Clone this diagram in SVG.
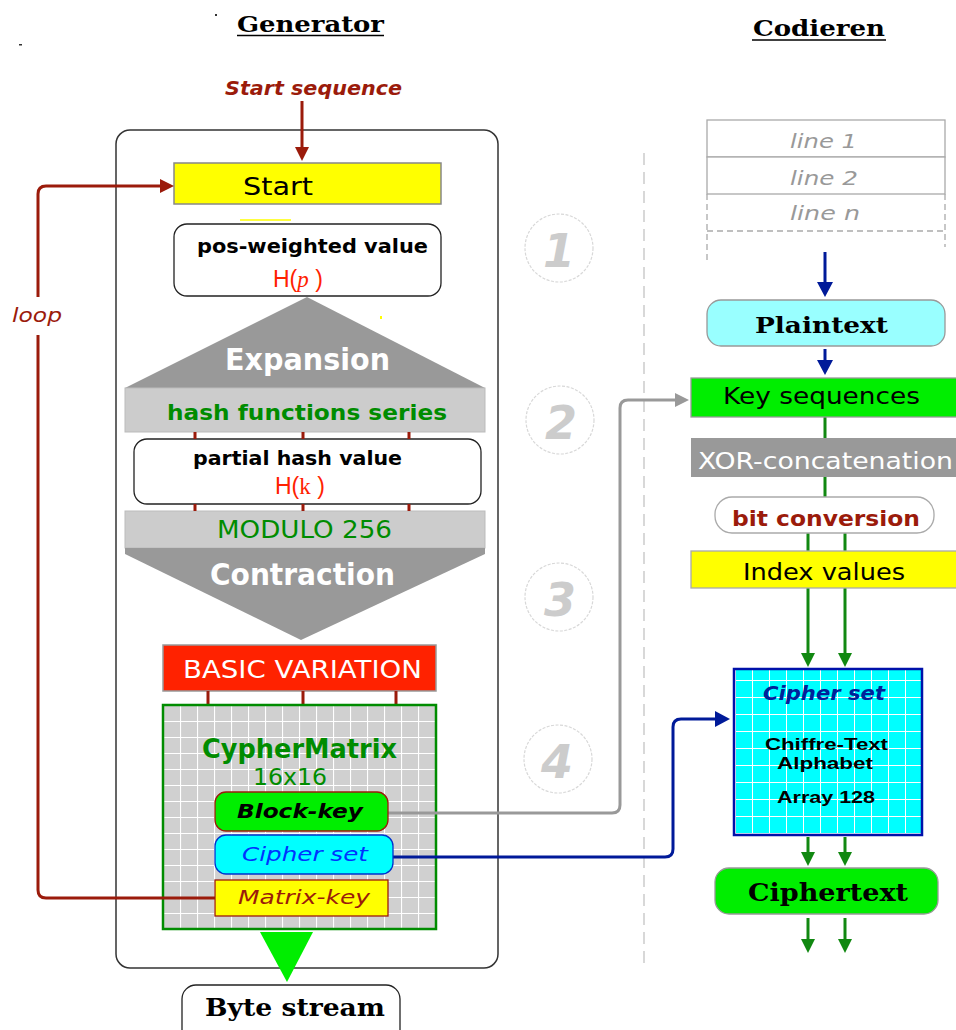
<svg xmlns="http://www.w3.org/2000/svg" width="956" height="1030" viewBox="0 0 956 1030">
<style>
.sans{font-family:"DejaVu Sans","Liberation Sans",sans-serif}
.serifb{font-family:"DejaVu Serif","Liberation Serif",serif;font-weight:bold}
.arial{font-family:"Liberation Sans",Arial,sans-serif}
.b{font-weight:bold}
.i{font-style:italic}
.dred{fill:#9b1b0b}
.grn{fill:#008c00}
.num{font-family:"DejaVu Sans",sans-serif;font-weight:bold;font-style:italic;fill:#cccccc;font-size:46px}
.circ{fill:none;stroke:#d8d8d8;stroke-width:1.2;stroke-dasharray:3 1.5}
.link{fill:none;stroke-width:3}
.bar{stroke:#9b1b0b;stroke-width:3}
</style>
<defs>
<pattern id="ggrid" x="163" y="705" width="17" height="16" patternUnits="userSpaceOnUse">
<rect width="17" height="16" fill="#d0d0d0"/>
<path d="M0,0 V16 M0,0 H17" stroke="#ffffff" stroke-width="2.2"/>
</pattern>
<pattern id="cgrid" x="735" y="663" width="17" height="17" patternUnits="userSpaceOnUse">
<rect width="17" height="17" fill="#00ffff"/>
<path d="M0,0 V17 M0,0 H17" stroke="#ffffff" stroke-width="2"/>
</pattern>
<marker id="mRed" markerWidth="14" markerHeight="14" refX="3" refY="7" orient="auto" markerUnits="userSpaceOnUse"><path d="M0,0 L14,7 L0,14 z" fill="#9b1b0b"/></marker>
<marker id="mGray" markerWidth="14" markerHeight="14" refX="3" refY="7" orient="auto" markerUnits="userSpaceOnUse"><path d="M0,0 L14,7 L0,14 z" fill="#999999"/></marker>
<marker id="mBlue" markerWidth="15" markerHeight="16" refX="3" refY="8" orient="auto" markerUnits="userSpaceOnUse"><path d="M0,0 L15,8 L0,16 z" fill="#001a99"/></marker>
<marker id="mGreen" markerWidth="14" markerHeight="14" refX="3" refY="7" orient="auto" markerUnits="userSpaceOnUse"><path d="M0,0 L14,7 L0,14 z" fill="#118811"/></marker>
</defs>
<rect width="956" height="1030" fill="#ffffff"/>

<!-- stray marks -->
<rect x="215" y="14" width="2" height="2" fill="#333"/>
<rect x="19" y="44" width="3" height="1.5" fill="#333"/>
<path d="M240,220 H291" stroke="#ffff00" stroke-width="1.5"/>
<rect x="380" y="316" width="2" height="3" fill="#ffff00"/>

<!-- headers -->
<g id="hdr-generator">
<text x="237" y="32" class="serifb" font-size="22" textLength="147" lengthAdjust="spacingAndGlyphs">Generator</text>
<path d="M237,35.5 H384" stroke="#000" stroke-width="1.6"/>
</g>
<g id="hdr-codieren">
<text x="753" y="36" class="serifb" font-size="22" textLength="132" lengthAdjust="spacingAndGlyphs">Codieren</text>
<path d="M752,40 H886" stroke="#000" stroke-width="1.6"/>
</g>

<!-- separator -->
<path d="M644,153 V963" stroke="#cccccc" stroke-width="1.5" stroke-dasharray="12 7"/>

<!-- generator frame -->
<g id="frame">
<rect x="116" y="130" width="382" height="838" rx="14" fill="none" stroke="#333" stroke-width="1.5"/>
</g>

<g id="start-seq-label">
<text x="225" y="95" class="sans b i dred" font-size="20" textLength="177" lengthAdjust="spacingAndGlyphs">Start sequence</text>
</g>

<g id="start">
<rect x="174" y="163" width="267" height="41" fill="#ffff00" stroke="#888" stroke-width="1.5"/>
<text x="243" y="195" class="sans" font-size="24" textLength="70" lengthAdjust="spacingAndGlyphs">Start</text>
</g>

<g id="posweighted">
<rect x="174" y="224" width="267" height="72" rx="13" fill="#fff" stroke="#222" stroke-width="1.3"/>
<text x="197" y="253" class="sans b" font-size="19" textLength="231" lengthAdjust="spacingAndGlyphs">pos-weighted value</text>
<text x="273" y="287" font-size="23" fill="#ff2200"><tspan class="arial">H(</tspan><tspan font-family="Liberation Serif,serif" font-style="italic">p</tspan><tspan class="arial"> )</tspan></text>
</g>

<g id="expansion">
<polygon points="307,297 485,388 125,388" fill="#999999"/>
<text x="225" y="370" class="sans b" font-size="30" fill="#fff" textLength="165" lengthAdjust="spacingAndGlyphs">Expansion</text>
</g>

<g id="hashseries">
<rect x="125" y="388" width="360" height="44" fill="#cccccc" stroke="#bbbbbb"/>
<text x="167" y="420" class="sans b grn" font-size="22" textLength="280" lengthAdjust="spacingAndGlyphs">hash functions series</text>
</g>

<g id="partialhash">
<rect x="134" y="439" width="347" height="65" rx="13" fill="#fff" stroke="#222" stroke-width="1.3"/>
<text x="193" y="465" class="sans b" font-size="19" textLength="209" lengthAdjust="spacingAndGlyphs">partial hash value</text>
<text x="275" y="494" font-size="23" fill="#ff2200"><tspan class="arial">H(</tspan><tspan font-family="Liberation Serif,serif">k</tspan><tspan class="arial"> )</tspan></text>
</g>

<g id="modulo">
<rect x="125" y="511" width="360" height="37" fill="#cccccc" stroke="#bbbbbb"/>
<text x="217" y="538" class="sans grn" font-size="24" textLength="175" lengthAdjust="spacingAndGlyphs">MODULO 256</text>
</g>

<g id="contraction">
<polygon points="125,548 485,548 485,554 301,640 125,554" fill="#999999"/>
<text x="210" y="585" class="sans b" font-size="30" fill="#fff" textLength="185" lengthAdjust="spacingAndGlyphs">Contraction</text>
</g>

<g id="basicvar">
<rect x="163" y="645" width="273" height="46" fill="#ff2200" stroke="#999" stroke-width="1.5"/>
<text x="183" y="678" class="sans" font-size="25" fill="#fff" textLength="239" lengthAdjust="spacingAndGlyphs">BASIC VARIATION</text>
</g>

<!-- small dark red links -->
<g id="bars">
<path class="bar" d="M195,432 V439 M303,432 V439 M409,432 V439 M195,504 V511 M303,504 V511 M409,504 V511 M208,691 V705 M303,691 V705 M396,691 V705"/>
</g>

<g id="cyphermatrix">
<rect x="163" y="705" width="273" height="224" fill="url(#ggrid)" stroke="#008c00" stroke-width="2.5"/>
<text x="202" y="758" class="sans b grn" font-size="27" textLength="195" lengthAdjust="spacingAndGlyphs">CypherMatrix</text>
<text x="253" y="785" class="sans grn" font-size="23" textLength="74" lengthAdjust="spacingAndGlyphs">16x16</text>
</g>

<!-- connectors -->
<g id="connectors">
<path d="M302,101 V150" class="link" stroke="#9b1b0b" marker-end="url(#mRed)"/>
<path d="M215,898 H46 Q38,898 38,890 V335 M38,297 V194 Q38,186 46,186 H163" class="link" stroke="#9b1b0b" marker-end="url(#mRed)"/>
<path d="M388,813 H612 Q620,813 620,805 V408 Q620,400 628,400 H678" class="link" stroke="#999999" marker-end="url(#mGray)"/>
<path d="M393,857 H665 Q673,857 673,849 V727 Q673,719 681,719 H718" class="link" stroke="#001a99" marker-end="url(#mBlue)"/>
<path d="M825,252 V285" class="link" stroke="#001a99" marker-end="url(#mBlue)"/>
<path d="M825,349 V363" class="link" stroke="#001a99" marker-end="url(#mBlue)"/>
<path d="M825,417 V438 M825,477 V497 M808,533 V551 M845,533 V551" class="link" stroke="#118811"/>
<path d="M808,588 V656" class="link" stroke="#118811" marker-end="url(#mGreen)"/>
<path d="M845,588 V656" class="link" stroke="#118811" marker-end="url(#mGreen)"/>
<path d="M808,837 V855" class="link" stroke="#118811" marker-end="url(#mGreen)"/>
<path d="M845,837 V855" class="link" stroke="#118811" marker-end="url(#mGreen)"/>
<path d="M808,918 V942" class="link" stroke="#118811" marker-end="url(#mGreen)"/>
<path d="M845,918 V942" class="link" stroke="#118811" marker-end="url(#mGreen)"/>
</g>

<g id="loop-label">
<text x="12" y="322" class="sans i dred" font-size="19" textLength="50" lengthAdjust="spacingAndGlyphs">loop</text>
</g>

<g id="blockkey">
<rect x="215" y="792" width="173" height="39" rx="11" fill="#00ee00" stroke="#9b1b0b" stroke-width="1.3"/>
<text x="237" y="818" class="sans b i" font-size="20" textLength="126" lengthAdjust="spacingAndGlyphs">Block-key</text>
</g>

<g id="cipherset-left">
<rect x="215" y="835" width="178" height="39" rx="11" fill="#00ffff" stroke="#0033cc" stroke-width="1.3"/>
<text x="242" y="861" class="sans i" font-size="20" fill="#0033ff" textLength="126" lengthAdjust="spacingAndGlyphs">Cipher set</text>
</g>

<g id="matrixkey">
<rect x="215" y="880" width="173" height="36" fill="#ffff00" stroke="#9b1b0b" stroke-width="1.3"/>
<text x="238" y="904" class="sans i dred" font-size="20" textLength="132" lengthAdjust="spacingAndGlyphs">Matrix-key</text>
</g>

<g id="out-triangle">
<polygon points="260,932 313,932 287,982" fill="#00ee00"/>
</g>

<g id="bytestream">
<rect x="182" y="985" width="218" height="60" rx="14" fill="#fff" stroke="#222" stroke-width="1.3"/>
<text x="205" y="1016" class="serifb" font-size="24" textLength="180" lengthAdjust="spacingAndGlyphs">Byte stream</text>
</g>

<!-- step circles -->
<g id="step1"><circle cx="559" cy="248" r="34" class="circ"/><text x="559" y="267" text-anchor="middle" class="num">1</text></g>
<g id="step2"><circle cx="560" cy="420" r="34" class="circ"/><text x="561" y="439" text-anchor="middle" class="num">2</text></g>
<g id="step3"><circle cx="559" cy="597" r="34" class="circ"/><text x="560" y="616" text-anchor="middle" class="num">3</text></g>
<g id="step4"><circle cx="558" cy="759" r="34" class="circ"/><text x="557" y="778" text-anchor="middle" class="num">4</text></g>

<!-- right side -->
<g id="lines">
<rect x="707" y="120" width="238" height="37" fill="#fff" stroke="#aaaaaa" stroke-width="1.3"/>
<rect x="707" y="157" width="238" height="37" fill="#fff" stroke="#aaaaaa" stroke-width="1.3"/>
<path d="M707,194 V260 M945,194 V247 M707,231 H945" fill="none" stroke="#aaaaaa" stroke-width="1.3" stroke-dasharray="6 4"/>
<text x="790" y="148" class="sans i" font-size="20" fill="#999999" textLength="67" lengthAdjust="spacingAndGlyphs">line 1</text>
<text x="790" y="185" class="sans i" font-size="20" fill="#999999" textLength="68" lengthAdjust="spacingAndGlyphs">line 2</text>
<text x="790" y="220" class="sans i" font-size="20" fill="#999999" textLength="70" lengthAdjust="spacingAndGlyphs">line n</text>
</g>

<g id="plaintext">
<rect x="707" y="300" width="238" height="46" rx="14" fill="#99ffff" stroke="#999" stroke-width="1.3"/>
<text x="755" y="333" class="serifb" font-size="22" textLength="133" lengthAdjust="spacingAndGlyphs">Plaintext</text>
</g>

<g id="keyseq">
<rect x="691" y="378" width="275" height="39" fill="#00ee00" stroke="#999" stroke-width="1.3"/>
<text x="723" y="404" class="sans" font-size="23" textLength="197" lengthAdjust="spacingAndGlyphs">Key sequences</text>
</g>

<g id="xor">
<rect x="691" y="438" width="275" height="39" fill="#999999"/>
<text x="698" y="469" class="sans" font-size="23" fill="#fff" textLength="255" lengthAdjust="spacingAndGlyphs">XOR-concatenation</text>
</g>

<g id="bitconv">
<rect x="715" y="497" width="219" height="36" rx="17" fill="#fff" stroke="#aaa" stroke-width="1.3"/>
<text x="732" y="526" class="sans b dred" font-size="22" textLength="188" lengthAdjust="spacingAndGlyphs">bit conversion</text>
</g>

<g id="index">
<rect x="691" y="551" width="275" height="37" fill="#ffff00" stroke="#aaa" stroke-width="1.3"/>
<text x="743" y="580" class="sans" font-size="23" textLength="162" lengthAdjust="spacingAndGlyphs">Index values</text>
</g>

<g id="cipherset-right">
<rect x="734" y="669" width="188" height="166" fill="url(#cgrid)" stroke="#0011aa" stroke-width="2.5"/>
<text x="763" y="700" class="sans b i" font-size="20" fill="#002299" textLength="122" lengthAdjust="spacingAndGlyphs">Cipher set</text>
<text x="765" y="750" class="arial b" font-size="16" textLength="123" lengthAdjust="spacingAndGlyphs">Chiffre-Text</text>
<text x="777" y="769" class="arial b" font-size="16" textLength="96" lengthAdjust="spacingAndGlyphs">Alphabet</text>
<text x="777" y="803" class="arial b" font-size="17" textLength="98" lengthAdjust="spacingAndGlyphs">Array 128</text>
</g>

<g id="ciphertext">
<rect x="715" y="868" width="223" height="46" rx="14" fill="#00ee00" stroke="#999" stroke-width="1.3"/>
<text x="748" y="901" class="serifb" font-size="24" textLength="160" lengthAdjust="spacingAndGlyphs">Ciphertext</text>
</g>
</svg>
